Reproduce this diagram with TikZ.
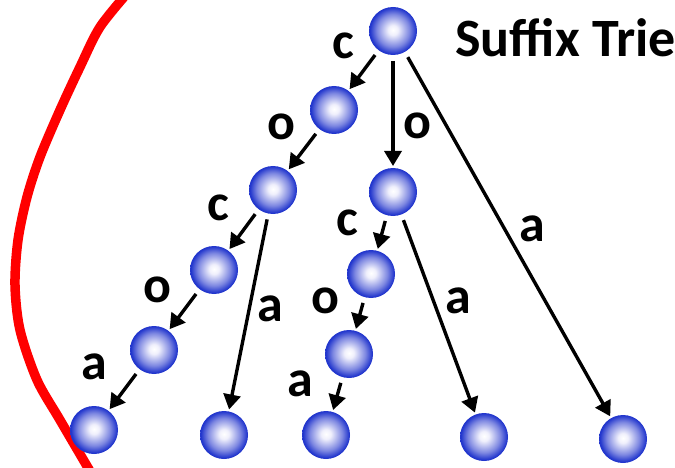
\documentclass[tikz,border=0pt]{standalone}
\usepackage{fontspec}
\setmainfont{Carlito}
\usetikzlibrary{arrows.meta}
\definecolor{balledge}{RGB}{35,55,205}
\definecolor{ballmid}{RGB}{125,135,225}
\definecolor{ballin}{RGB}{240,240,252}
\pgfdeclareradialshading{sphereshade}{\pgfpoint{0bp}{1bp}}{%
  color(0bp)=(white); color(5bp)=(ballin); color(17bp)=(ballmid);
  color(24bp)=(balledge); color(25bp)=(balledge); color(50bp)=(balledge)}
\tikzset{
  ball/.style={circle, minimum size=48pt, inner sep=0pt, outer sep=0pt, shading=sphereshade},
  lbl/.style={font=\bfseries\fontsize{52}{52}\selectfont, anchor=base, inner sep=0pt},
  arr/.style={line width=3.4pt, -{Triangle[length=15pt,width=17pt]}, shorten <=6pt, shorten >=2pt},
}
\begin{document}
\begin{tikzpicture}[x=1pt,y=-1pt]
\useasboundingbox (0,0) rectangle (675,468);
\begin{scope}
\clip (0,0) rectangle (675,468);
\draw[red, line width=9.5pt] plot[smooth] coordinates {(130,-10) (100,27) (80,67) (60,110) (40,157) (27,197) (18,240) (15,285) (20,330) (37,380) (60,420) (94,478)};
\end{scope}
\node[ball] (r) at (393,31) {};
\node[ball] (c) at (334,110) {};
\node[ball] (o) at (393,192) {};
\node[ball] (co) at (273,190) {};
\node[ball] (coc) at (214,270) {};
\node[ball] (coco) at (154,350) {};
\node[ball] (cocoa) at (94,430) {};
\node[ball] (coca) at (224,435) {};
\node[ball] (oc) at (371,274) {};
\node[ball] (oco) at (349,354) {};
\node[ball] (ocoa) at (326,435) {};
\node[ball] (oca) at (484,437) {};
\node[ball] (a) at (623,439) {};
\draw[arr] (r) -- (c);
\draw[arr] (r) -- (o);
\draw[arr] (r) -- (a);
\draw[arr] (c) -- (co);
\draw[arr] (co) -- (coc);
\draw[arr] (co) -- (coca);
\draw[arr] (coc) -- (coco);
\draw[arr] (coco) -- (cocoa);
\draw[arr] (o) -- (oc);
\draw[arr] (o) -- (oca);
\draw[arr] (oc) -- (oco);
\draw[arr] (oco) -- (ocoa);
\node[lbl] (l1) at (343,59) {c};
\node[lbl] (l2) at (281,140) {o};
\node[lbl] (l3) at (218,220) {c};
\node[lbl] (l4) at (157,302) {o};
\node[lbl] (l5) at (94,379) {a};
\node[lbl] (l6) at (270,321) {a};
\node[lbl] (l7) at (417,139) {o};
\node[lbl] (l8) at (347,235) {c};
\node[lbl] (l9) at (325,313) {o};
\node[lbl] (l10) at (300,396) {a};
\node[lbl] (l11) at (458,313) {a};
\node[lbl] (l12) at (532,241) {a};
\node[font=\bfseries\fontsize{54}{54}\selectfont, anchor=base west, inner sep=0pt] (title) at (455,57) {Suffix Trie};
\end{tikzpicture}
\end{document}
